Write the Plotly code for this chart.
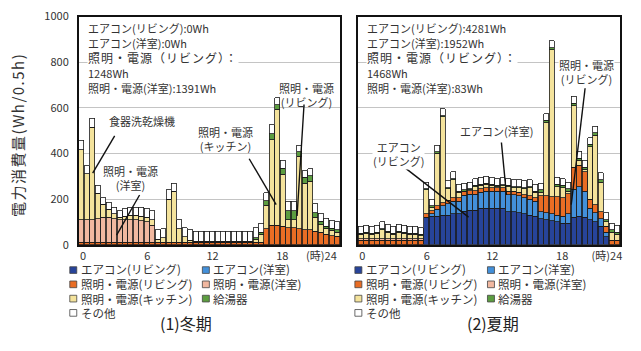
import plotly.graph_objects as go

W, H = 641, 351
FONT = "Noto Sans CJK JP"

# half-hour slots, positioned at the centre of each 30-minute interval (hours)
slots = [i * 0.5 + 0.25 for i in range(48)]

series_names = ["エアコン(リビング)", "エアコン(洋室)", "照明・電源(リビング)", "照明・電源(洋室)",
                "照明・電源(キッチン)", "給湯器", "その他"]
series_colors = ["#27449a", "#4390da", "#e96d24", "#f1b8a0", "#f4e39c", "#5c9d40", "#ffffff"]

# ---- winter (Wh per 0.5h) ----
w_ac_living = [0, 0, 0, 0, 0, 0, 0, 0, 0, 0, 0, 0, 0, 0, 0, 0, 0, 0, 0, 0, 0, 0, 0, 0,
               0, 0, 0, 0, 0, 0, 0, 0, 0, 0, 0, 0, 0, 0, 0, 0, 0, 0, 0, 0, 0, 0, 0, 0]
w_ac_room = [0, 0, 0, 0, 0, 0, 0, 0, 0, 0, 0, 0, 0, 0, 0, 0, 0, 0, 0, 0, 0, 0, 0, 0,
             0, 0, 0, 0, 0, 0, 0, 0, 0, 0, 0, 0, 0, 0, 0, 0, 0, 0, 0, 0, 0, 0, 0, 0]
w_light_living = [10, 10, 10, 10, 10, 10, 10, 10, 10, 10, 10, 10, 10, 10, 10, 10, 10, 10, 10, 10, 10, 10, 10, 10,
                  10, 10, 10, 10, 10, 10, 10, 10, 10, 10, 70, 85, 85, 80, 75, 75, 70, 65, 65, 60, 55, 45, 40, 38]
w_light_room = [100, 100, 100, 105, 110, 110, 105, 100, 100, 100, 100, 95, 90, 76, 0, 0, 0, 0, 0, 0, 0, 0, 0, 0,
                0, 0, 0, 0, 0, 0, 0, 0, 0, 0, 0, 0, 0, 0, 0, 0, 0, 0, 0, 0, 0, 0, 0, 0]
w_kitchen = [307, 201, 404, 110, 57, 36, 20, 10, 15, 20, 20, 20, 20, 24, 15, 20, 190, 225, 60, 25, 10, 5, 5, 5,
             5, 5, 5, 5, 5, 5, 5, 5, 15, 35, 103, 376, 509, 230, 35, 35, 317, 205, 213, 60, 32, 27, 23, 17]
w_water = [0, 0, 0, 0, 0, 0, 0, 0, 0, 0, 0, 0, 0, 0, 0, 0, 0, 0, 0, 0, 0, 0, 0, 0,
           0, 0, 0, 0, 0, 0, 0, 0, 5, 10, 20, 25, 20, 25, 40, 40, 20, 25, 25, 20, 15, 10, 10, 10]
w_other = [40, 35, 40, 35, 30, 30, 30, 30, 35, 35, 35, 40, 40, 40, 40, 40, 40, 35, 40, 40, 45, 45, 45, 45,
           45, 45, 45, 45, 45, 45, 45, 45, 45, 40, 35, 40, 30, 35, 40, 40, 30, 30, 30, 40, 35, 35, 35, 35]

# ---- summer (Wh per 0.5h) ----
s_ac_living = [0, 0, 0, 0, 0, 0, 0, 0, 0, 0, 0, 0, 120, 125, 125, 130, 130, 135, 135, 147, 152, 152, 160, 160,
               160, 160, 160, 145, 145, 140, 135, 130, 125, 115, 110, 105, 100, 95, 95, 120, 125, 120, 110, 100, 80, 35, 0, 0]
s_ac_room = [0, 0, 0, 0, 0, 0, 0, 0, 0, 0, 0, 0, 0, 10, 30, 40, 50, 55, 55, 70, 70, 70, 70, 75,
             75, 75, 75, 75, 75, 75, 70, 70, 65, 30, 30, 30, 30, 30, 40, 124, 129, 114, 50, 40, 35, 20, 0, 0]
s_light_living = [20, 20, 20, 20, 20, 20, 20, 20, 20, 20, 20, 20, 15, 15, 15, 15, 15, 15, 15, 15, 15, 15, 15, 15,
                  15, 15, 15, 15, 15, 15, 15, 15, 15, 70, 75, 75, 80, 80, 88, 95, 95, 85, 40, 35, 30, 25, 20, 20]
s_light_room = [7, 7, 7, 7, 7, 7, 7, 7, 7, 7, 7, 6, 0, 0, 0, 0, 0, 0, 0, 0, 0, 0, 0, 0,
                0, 0, 0, 0, 0, 0, 0, 0, 0, 0, 0, 0, 0, 0, 0, 0, 0, 0, 0, 0, 0, 0, 0, 0]
s_kitchen = [18, 23, 18, 23, 38, 28, 18, 28, 23, 18, 18, 14, 105, 15, 232, 376, 50, 80, 25, 3, 3, 18, 15, 15,
             10, 5, 8, 20, 15, 20, 25, 35, 25, 15, 320, 644, 45, 45, 12, 271, 21, 11, 230, 305, 130, 20, 35, 25]
s_water = [5, 5, 5, 5, 5, 5, 5, 5, 5, 5, 5, 5, 5, 5, 5, 5, 5, 5, 5, 5, 5, 5, 5, 5,
           5, 5, 5, 5, 5, 5, 5, 5, 5, 10, 10, 10, 10, 10, 10, 10, 10, 10, 10, 10, 10, 10, 10, 10]
s_other = [30, 30, 30, 30, 30, 30, 30, 30, 30, 30, 30, 30, 30, 30, 30, 30, 30, 30, 30, 30, 30, 30, 30, 30,
           30, 30, 30, 30, 30, 30, 30, 30, 30, 30, 30, 30, 30, 30, 30, 30, 30, 30, 30, 30, 30, 30, 30, 30]

winter = [w_ac_living, w_ac_room, w_light_living, w_light_room, w_kitchen, w_water, w_other]
summer = [s_ac_living, s_ac_room, s_light_living, s_light_room, s_kitchen, s_water, s_other]

x_tick_text = ["0", "6", "12", "18", "(時)24"]
x_ticks_winter = [0.4, 6.3, 12.3, 18.7, 22.3]
x_ticks_summer = [0.4, 6.3, 12.3, 18.7, 22.8]
y_ticks = [0, 200, 400, 600, 800, 1000]

fig = go.Figure()
for axis_x, axis_y, season in (("x", "y", winter), ("x2", "y2", summer)):
    for name, color, vals in zip(series_names, series_colors, season):
        fig.add_trace(go.Bar(
            x=slots, y=vals, name=name, xaxis=axis_x, yaxis=axis_y,
            marker=dict(color=color, line=dict(color="#1a1a1a", width=0.8)),
            showlegend=False, hoverinfo="skip"))


def px_x(p):
    return p / W


def px_y(p):
    return (H - p) / H


y_dom = [px_y(247), px_y(8)]
axis_common = dict(showline=True, mirror=True, linecolor="#111111", linewidth=1.6,
                   zeroline=False, ticks="")
fig.update_layout(
    width=W, height=H, margin=dict(l=0, r=0, t=0, b=0),
    paper_bgcolor="white", plot_bgcolor="white",
    font=dict(family=FONT, size=11, color="#333333"),
    barmode="stack", bargap=0.08,
    xaxis=dict(domain=[px_x(79), px_x(341)], range=[0, 24], anchor="y", showgrid=False,
               tickmode="array", tickvals=x_ticks_winter, ticktext=x_tick_text,
               tickfont=dict(size=11, color="#333333"), **axis_common),
    yaxis=dict(domain=y_dom, range=[0, 1000], anchor="x", tickmode="array", tickvals=y_ticks,
               showgrid=True, gridcolor="#c4c4c4", gridwidth=1, ticklabelstandoff=6,
               ticklabeloverflow="allow",
               tickfont=dict(size=11, color="#333333"), **axis_common),
    xaxis2=dict(domain=[px_x(359), px_x(622)], range=[0, 24], anchor="y2", showgrid=False,
                tickmode="array", tickvals=x_ticks_summer, ticktext=x_tick_text,
                tickfont=dict(size=11, color="#333333"), **axis_common),
    yaxis2=dict(domain=y_dom, range=[0, 1000], anchor="x2", tickmode="array", tickvals=y_ticks,
                showgrid=True, gridcolor="#c4c4c4", gridwidth=1, showticklabels=False, **axis_common),
)

annotations = []
shapes = []

# y-axis title
annotations.append(dict(text='<span style="letter-spacing:1.5px">電力消費量(Wh/0.5h)</span>',
                        xref="paper", yref="paper",
                        x=px_x(18), y=px_y(132), xanchor="center", yanchor="middle",
                        textangle=-90, showarrow=False,
                        font=dict(size=15, color="#333333")))

# energy totals written in the upper-left corner of each panel (one text block each)
wide = '<span style="font-size:12px;letter-spacing:1px">照明・電源（リビング）：</span>'
stats = {
    87: ["エアコン(リビング):0Wh", "エアコン(洋室):0Wh", wide, "1248Wh",
         "照明・電源(洋室):1391Wh"],
    367: ["エアコン(リビング):4281Wh", "エアコン(洋室):1952Wh", wide, "1468Wh",
          "照明・電源(洋室):83Wh"],
}
STAT_FONT = 11.5
for x0, lines in stats.items():
    body = "<br>".join(l if l is wide else '<span style="font-size:11px">%s</span>' % l for l in lines)
    annotations.append(dict(
        text=body, xref="paper", yref="paper", x=px_x(x0), y=px_y(51.5),
        xanchor="left", yanchor="middle", align="left", showarrow=False,
        bgcolor="white", borderpad=0,
        font=dict(size=STAT_FONT, color="#333333")))

# callouts: (axis suffix, text, label x, label y, line start, line end) in data units
callouts = [
    ("", "食器洗乾燥機", 5.8, 544, (3.3, 477), (1.28, 314), False),
    ("", "照明・電源<br>(洋室)", 4.76, 293, (5.59, 218), (3.48, 42), False),
    ("", "照明・電源<br>(キッチン)", 13.47, 464, (15.66, 377), (18.14, 176), False),
    ("", "照明・電源<br>(リビング)", 20.9, 657, (20.7, 615), (20.06, 126), False),
    ("2", "エアコン<br>(リビング)", 3.74, 397, (4.38, 335), (10.13, 121), True),
    ("2", "エアコン(洋室)", 12.68, 498, (13.14, 448), (13.6, 218), False),
    ("2", "照明・電源<br>(リビング)", 20.9, 757, (20.8, 686), (19.53, 176), True),
]
for sfx, txt, lx, ly, p0, p1, bg in callouts:
    annotations.append(dict(text=txt, xref="x" + sfx, yref="y" + sfx, x=lx, y=ly,
                            xanchor="center", yanchor="middle",
                            showarrow=False, bgcolor="white" if bg else None, borderpad=0,
                            font=dict(size=11, color="#333333")))
    shapes.append(dict(type="line", xref="x" + sfx, yref="y" + sfx,
                       x0=p0[0], y0=p0[1], x1=p1[0], y1=p1[1],
                       line=dict(color="#111111", width=1.4)))

# legends below each panel: two columns of three rows, plus a fourth row for その他
LEG_FONT = 11.5
row_step = 1.3 * LEG_FONT          # plotly's <br> line spacing
row_mid = 288.5
rows_y = [row_mid - row_step, row_mid, row_mid + row_step, row_mid + 2 * row_step]
for col_x in ((70, 203), (356, 489)):
    for c in (0, 1):
        names = [series_names[c], series_names[2 + c], series_names[4 + c]]
        colors = [series_colors[c], series_colors[2 + c], series_colors[4 + c]]
        sx = col_x[c]
        for color, sy in zip(colors, rows_y[:3]):
            shapes.append(dict(type="rect", xref="paper", yref="paper",
                               x0=px_x(sx), x1=px_x(sx + 7), y0=px_y(sy + 3.5), y1=px_y(sy - 3.5),
                               fillcolor=color, line=dict(color="#444444", width=0.8)))
        annotations.append(dict(text="<br>".join(names), xref="paper", yref="paper",
                                x=px_x(sx + 9), y=px_y(row_mid), xanchor="left", yanchor="middle",
                                align="left", showarrow=False,
                                font=dict(size=LEG_FONT, color="#333333")))
    sx, sy = col_x[0], rows_y[3]
    shapes.append(dict(type="rect", xref="paper", yref="paper",
                       x0=px_x(sx), x1=px_x(sx + 7), y0=px_y(sy + 3.5), y1=px_y(sy - 3.5),
                       fillcolor=series_colors[6], line=dict(color="#444444", width=0.8)))
    annotations.append(dict(text=series_names[6], xref="paper", yref="paper",
                            x=px_x(sx + 9), y=px_y(sy), xanchor="left", yanchor="middle",
                            showarrow=False, font=dict(size=LEG_FONT, color="#333333")))

# panel captions
for txt, cx in (("(1)冬期", 187), ("(2)夏期", 495)):
    annotations.append(dict(text=txt, xref="paper", yref="paper", x=px_x(cx), y=px_y(329),
                            xanchor="center", yanchor="middle",
                            showarrow=False, font=dict(size=16, color="#222222")))

fig.update_layout(annotations=annotations, shapes=shapes)
fig.write_html("out.html")
